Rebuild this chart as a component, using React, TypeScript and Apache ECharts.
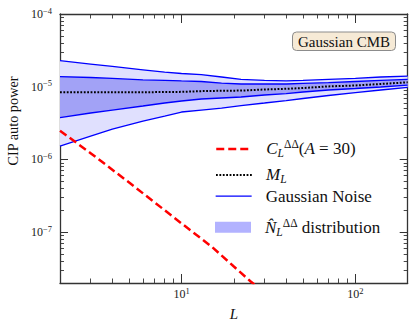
import React, { useEffect, useRef } from "react";
import * as echarts from "echarts";

// ---------- data ----------
const ells = [2, 3, 4, 6, 8, 10, 13, 17, 22, 30, 40, 50, 70, 100, 140, 200];
const meanML = [8.38e-6, 8.38e-6, 8.4e-6, 8.4e-6, 8.45e-6, 8.5e-6, 8.7e-6, 8.8e-6, 8.85e-6, 9.15e-6, 9.36e-6, 9.6e-6, 1.01e-5, 1.04e-5, 1.09e-5, 1.15e-5];
const upperOuter = [2.28e-5, 2.05e-5, 1.9e-5, 1.71e-5, 1.59e-5, 1.52e-5, 1.47e-5, 1.36e-5, 1.26e-5, 1.22e-5, 1.2e-5, 1.22e-5, 1.26e-5, 1.3e-5, 1.36e-5, 1.4e-5];
const upperInner = [1.38e-5, 1.34e-5, 1.3e-5, 1.24e-5, 1.22e-5, 1.2e-5, 1.18e-5, 1.12e-5, 1.09e-5, 1.09e-5, 1.09e-5, 1.11e-5, 1.14e-5, 1.18e-5, 1.22e-5, 1.26e-5];
const lowerInner = [3.77e-6, 4.35e-6, 4.78e-6, 5.43e-6, 5.97e-6, 6.36e-6, 6.78e-6, 7.0e-6, 7.22e-6, 7.69e-6, 8.06e-6, 8.46e-6, 9.01e-6, 9.45e-6, 9.91e-6, 1.05e-5];
const lowerOuter = [1.53e-6, 2.1e-6, 2.62e-6, 3.37e-6, 3.95e-6, 4.49e-6, 4.78e-6, 5.09e-6, 5.51e-6, 5.97e-6, 6.46e-6, 6.89e-6, 7.57e-6, 8.32e-6, 9.01e-6, 9.82e-6];
const cipL = [2, 3, 5, 10, 15, 20, 25, 30];
const cipPower = [2.48e-6, 1.22e-6, 4.81e-7, 1.32e-7, 6.25e-8, 3.37e-8, 2.1e-8, 1.47e-8];

const xMajorTicks = [10, 100];
const xMinorTicks = [3, 4, 5, 6, 7, 8, 9, 20, 30, 40, 50, 60, 70, 80, 90];
const yMajorTicks = [1e-7, 1e-6, 1e-5, 1e-4];
const yMinorTicks = [
  3e-8, 4e-8, 5e-8, 6e-8, 7e-8, 8e-8, 9e-8,
  2e-7, 3e-7, 4e-7, 5e-7, 6e-7, 7e-7, 8e-7, 9e-7,
  2e-6, 3e-6, 4e-6, 5e-6, 6e-6, 7e-6, 8e-6, 9e-6,
  2e-5, 3e-5, 4e-5, 5e-5, 6e-5, 7e-5, 8e-5, 9e-5,
];
const xRange = [2, 200];
const yRange = [2e-8, 1e-4];

// ---------- styles ----------
const FONT = '"Liberation Serif", "Times New Roman", serif';
const AXIS_COLOR = "#333";
const BLUE = "#0000ff";
const OUTER_FILL = "#e0e0fe";
const INNER_FILL = "#a2a2f6";
const PATCH = "#b2b2ff";

const NAME_C = "C_L(A=30)";
const NAME_M = "M_L";
const NAME_G = "Gaussian Noise";
const NAME_N = "N_L distribution";

const powFmt = (v: number) => {
  const e = Math.round(Math.log10(v));
  return `{b|10}{s|${e < 0 ? "\u2212" + -e : e}}`;
};
const tickRich = {
  b: { fontSize: 12, fontFamily: FONT, color: "#222" },
  s: { fontSize: 8.5, fontFamily: FONT, color: "#222", padding: [0, 0, 7, 0] },
};

const legendRich = {
  g: { width: 9 },
  r: { fontSize: 17, fontFamily: FONT, color: "#111" },
  i: { fontSize: 17, fontFamily: FONT, fontStyle: "italic", color: "#111" },
  sub: { fontSize: 11.5, fontFamily: FONT, fontStyle: "italic", color: "#111", padding: [9, 0, 0, 0] },
  sup: { fontSize: 11.5, fontFamily: FONT, color: "#111", padding: [0, 0, 9, 0] },
};
const legendText: Record<string, string> = {
  [NAME_C]: "{g| }{i|C}{sub|L}{sup|\u0394\u0394}{r|(}{i|A}{r| = 30)}",
  [NAME_M]: "{g| }{i|M}{sub|L}",
  [NAME_G]: "{g| }{r|Gaussian Noise}",
  [NAME_N]: "{g| }{i|N\u0302}{sub|L}{sup|\u0394\u0394}{r| distribution}",
};

const makeLegend = (name: string, top: number, h: number, icon?: string) => ({
  show: true,
  orient: "vertical",
  left: 215,
  top,
  padding: 0,
  itemWidth: 36,
  itemHeight: h,
  selectedMode: false,
  data: [icon ? { name, icon } : { name }],
  lineStyle: { width: "inherit" },
  itemStyle: icon ? {} : { opacity: 0 },
  formatter: (n: string) => legendText[n],
  textStyle: { rich: legendRich },
});

const bandSeries = (lo: number[], hi: number[], fill: string, z: number) => ({
  type: "custom",
  name: NAME_N,
  xAxisIndex: 0,
  yAxisIndex: 0,
  silent: true,
  z,
  itemStyle: { color: PATCH },
  data: ells.map((l, i) => [l, lo[i], hi[i]]),
  encode: { x: 0, y: [1, 2] },
  renderItem: (params: any, api: any) => {
    if (params.dataIndex !== 0) return null;
    const top = ells.map((l, i) => api.coord([l, hi[i]]));
    const bot = ells.map((l, i) => api.coord([l, lo[i]])).reverse();
    return {
      type: "polygon",
      shape: { points: top.concat(bot) },
      style: { fill, stroke: "none" },
    };
  },
});

const blueLine = (vals: number[]) => ({
  type: "line",
  name: NAME_G,
  symbol: "none",
  xAxisIndex: 0,
  yAxisIndex: 0,
  z: 3,
  itemStyle: { color: BLUE },
  lineStyle: { color: BLUE, width: 1.3 },
  data: ells.map((l, i) => [l, vals[i]]),
});

const logX = (extra: any) => ({
  type: "log",
  logBase: 10,
  min: xRange[0],
  max: xRange[1],
  splitLine: { show: false },
  ...extra,
});
const logY = (extra: any) => ({
  type: "log",
  logBase: 10,
  min: yRange[0],
  max: yRange[1],
  splitLine: { show: false },
  ...extra,
});

const gridBox = { left: 60, right: 7.3, top: 14, bottom: 46, containLabel: false };
const axisLine = { show: true, lineStyle: { color: AXIS_COLOR, width: 1.3 } };
const noLine = { show: false };
const noLabel = { show: false };
const majorTickX = { show: true, inside: true, length: 9, customValues: xMajorTicks, lineStyle: { color: AXIS_COLOR, width: 1 } };
const minorTickX = { show: true, inside: true, length: 4.5, customValues: xMinorTicks, lineStyle: { color: AXIS_COLOR, width: 0.9 } };
const majorTickY = { show: true, inside: true, length: 8, customValues: yMajorTicks, lineStyle: { color: AXIS_COLOR, width: 1 } };
const minorTickY = { show: true, inside: true, length: 4, customValues: yMinorTicks, lineStyle: { color: AXIS_COLOR, width: 0.9 } };

const option: any = {
  animation: false,
  backgroundColor: "#ffffff",
  grid: [gridBox, gridBox],
  xAxis: [
    logX({
      gridIndex: 0,
      position: "bottom",
      axisLine,
      axisTick: majorTickX,
      axisLabel: { customValues: xMajorTicks, formatter: powFmt, rich: tickRich, margin: 3, fontFamily: FONT },
      name: "L",
      nameLocation: "middle",
      nameGap: 23,
      nameTextStyle: { fontFamily: FONT, fontStyle: "italic", fontSize: 15, color: "#111" },
    }),
    logX({ gridIndex: 0, position: "top", axisLine, axisTick: majorTickX, axisLabel: noLabel }),
    logX({ gridIndex: 1, position: "bottom", axisLine: noLine, axisTick: minorTickX, axisLabel: noLabel }),
    logX({ gridIndex: 1, position: "top", axisLine: noLine, axisTick: minorTickX, axisLabel: noLabel }),
  ],
  yAxis: [
    logY({
      gridIndex: 0,
      position: "left",
      axisLine,
      axisTick: majorTickY,
      axisLabel: { customValues: yMajorTicks, formatter: powFmt, rich: tickRich, margin: 8, fontFamily: FONT },
    }),
    logY({ gridIndex: 0, position: "right", axisLine, axisTick: majorTickY, axisLabel: noLabel }),
    logY({ gridIndex: 1, position: "left", axisLine: noLine, axisTick: minorTickY, axisLabel: noLabel }),
    logY({ gridIndex: 1, position: "right", axisLine: noLine, axisTick: minorTickY, axisLabel: noLabel }),
  ],
  legend: [
    makeLegend(NAME_C, 138.4, 12),
    makeLegend(NAME_M, 166.4, 12),
    makeLegend(NAME_G, 187.7, 12),
    makeLegend(NAME_N, 216.7, 11, "rect"),
  ],
  graphic: [
    {
      type: "text",
      x: 13,
      y: 121,
      rotation: Math.PI / 2,
      style: { text: "CIP auto power", fontSize: 14.3, fontFamily: FONT, fill: "#111", align: "center", verticalAlign: "middle" },
    },
    {
      type: "rect",
      shape: { x: 292.5, y: 32, width: 103, height: 18.5, r: 4 },
      style: { fill: "#f6ead6", stroke: "#8c8c8c", lineWidth: 1 },
      z: 10,
    },
    {
      type: "text",
      x: 344,
      y: 41.5,
      z: 11,
      style: { text: "Gaussian CMB", fontSize: 15, fontFamily: FONT, fill: "#111", align: "center", verticalAlign: "middle" },
    },
  ],
  series: [
    bandSeries(lowerOuter, upperOuter, OUTER_FILL, 1),
    bandSeries(lowerInner, upperInner, INNER_FILL, 2),
    blueLine(upperOuter),
    blueLine(upperInner),
    blueLine(lowerInner),
    blueLine(lowerOuter),
    {
      type: "line",
      name: NAME_M,
      symbol: "none",
      z: 4,
      itemStyle: { color: "#000" },
      lineStyle: { color: "#000", width: 2, type: [1.8, 1.6] },
      data: ells.map((l, i) => [l, meanML[i]]),
    },
    {
      type: "line",
      name: NAME_C,
      symbol: "none",
      z: 5,
      clip: true,
      itemStyle: { color: "#ff0000" },
      lineStyle: { color: "#ff0000", width: 2.5, type: [8, 4] },
      data: cipL.map((l, i) => [l, cipPower[i]]),
    },
  ],
};

export default function App() {
  const ref = useRef<HTMLDivElement>(null);
  useEffect(() => {
    const chart = echarts.init(ref.current!, null, { renderer: "svg" });
    chart.setOption(option);
    return () => chart.dispose();
  }, []);
  return (
    <div
      ref={ref}
      style={{ position: "fixed", left: 0, top: 0, width: 415, height: 329, background: "#fff" }}
    />
  );
}
